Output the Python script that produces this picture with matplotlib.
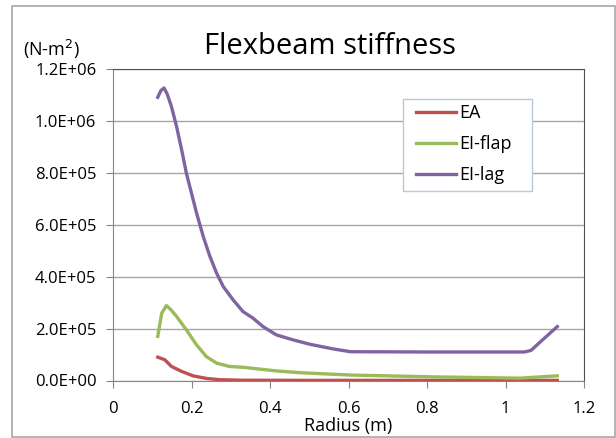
import matplotlib.pyplot as plt
from matplotlib.patches import Rectangle

# --- Данные ---
r_ea = [0.114, 0.132, 0.149, 0.175, 0.204, 0.238, 0.272, 0.331, 0.5, 0.7, 0.9, 1.05, 1.132]
ea = [9.0e4, 8.0e4, 5.4e4, 3.5e4, 1.8e4, 8.0e3, 3.0e3, 1.0e3, 5.0e2, 5.0e2, 5.0e2, 5.0e2, 5.0e2]

r_flap = [0.114, 0.124, 0.136, 0.148, 0.162, 0.187, 0.213, 0.238, 0.264, 0.297, 0.331, 0.374,
          0.416, 0.478, 0.605, 0.818, 1.036, 1.078, 1.132]
ei_flap = [1.70e5, 2.59e5, 2.89e5, 2.72e5, 2.47e5, 1.95e5, 1.37e5, 9.2e4, 6.7e4, 5.4e4, 5.1e4,
           4.4e4, 3.7e4, 3.0e4, 2.1e4, 1.4e4, 9.0e3, 1.3e4, 1.8e4]

r_lag = [0.114, 0.122, 0.130, 0.138, 0.149, 0.162, 0.175, 0.187, 0.200, 0.213, 0.230, 0.247,
         0.264, 0.281, 0.306, 0.331, 0.357, 0.382, 0.416, 0.458, 0.501, 0.56, 0.605, 0.8,
         1.048, 1.065, 1.091, 1.132]
ei_lag = [1.092e6, 1.118e6, 1.128e6, 1.105e6, 1.056e6, 9.79e5, 8.89e5, 7.99e5, 7.22e5, 6.45e5,
          5.55e5, 4.78e5, 4.14e5, 3.62e5, 3.11e5, 2.66e5, 2.40e5, 2.08e5, 1.76e5, 1.57e5,
          1.40e5, 1.22e5, 1.11e5, 1.10e5, 1.10e5, 1.16e5, 1.52e5, 2.08e5]

x_ticks = [0, 0.2, 0.4, 0.6, 0.8, 1, 1.2]
x_tick_labels = ['0', '0.2', '0.4', '0.6', '0.8', '1', '1.2']
y_ticks = [0, 2e5, 4e5, 6e5, 8e5, 1e6, 1.2e6]
y_tick_labels = ['0.0E+00', '2.0E+05', '4.0E+05', '6.0E+05', '8.0E+05', '1.0E+06', '1.2E+06']

plt.rcParams['font.family'] = ['Open Sans', 'DejaVu Sans']

W, H = 616, 438
fig = plt.figure(figsize=(W / 100, H / 100), dpi=100)

# рамка вокруг всей диаграммы (как в Excel)
fig.patches.append(Rectangle((12 / W, 1 - 437 / H), 603 / W, 431 / H,
                             transform=fig.transFigure, fill=False,
                             edgecolor='#a6a6a6', linewidth=1.2))

ax = fig.add_axes([113 / W, 1 - 380.5 / H, 471 / W, 311.2 / H])

ax.plot(r_ea, ea, color='#C0504D', linewidth=2.4, label='EA')
ax.plot(r_flap, ei_flap, color='#9BBB59', linewidth=2.4, label='EI-flap')
ax.plot(r_lag, ei_lag, color='#8064A2', linewidth=2.4, label='EI-lag')

ax.set_xlim(0, 1.2)
ax.set_ylim(0, 1.2e6)
ax.set_xticks(x_ticks)
ax.set_xticklabels(x_tick_labels)
ax.set_yticks(y_ticks)
ax.set_yticklabels(y_tick_labels)
ax.tick_params(labelsize=12, length=5, color='#868686')
ax.tick_params(axis='y', pad=7)
ax.tick_params(axis='x', pad=10)

ax.grid(True, axis='y', color='#a6a6a6', linewidth=1)
ax.set_axisbelow(True)
for side in ['left', 'bottom']:
    ax.spines[side].set_color('#868686')
for side in ['top', 'right']:
    ax.spines[side].set_color('#505050')

ax.set_xlabel('Radius (m)', fontsize=13, labelpad=0)

fig.text(330 / W, 1 - 47 / H, 'Flexbeam stiffness', fontsize=21, ha='center', va='center')
fig.text(51 / W, 1 - 49 / H, '(N-m$^2$)', fontsize=13, ha='center', va='center')

# рамка легенды отдельно, чтобы задать её точный размер
ax.add_patch(Rectangle((403 / W, 1 - 191 / H), 129 / W, 92 / H,
                       transform=fig.transFigure, facecolor='white',
                       edgecolor='#b9c9da', linewidth=1, zorder=4))
leg = ax.legend(loc='upper left', bbox_to_anchor=(416 / W, 1 - 104 / H),
                bbox_transform=fig.transFigure,
                fontsize=13, frameon=False, handlelength=2.2,
                handletextpad=0.2, labelspacing=0.73, borderpad=0, borderaxespad=0)
leg.set_zorder(5)

fig.savefig('out.png', dpi=100)
